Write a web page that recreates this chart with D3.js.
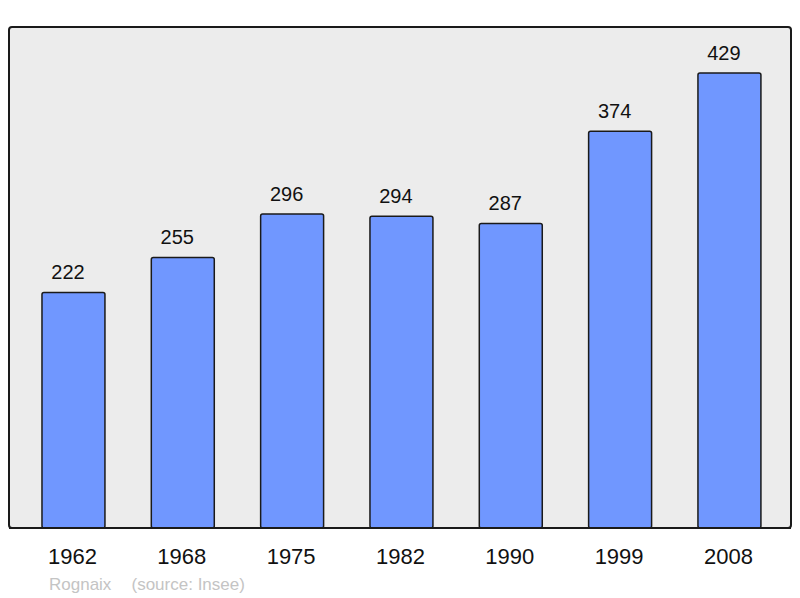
<!DOCTYPE html>
<html><head><meta charset="utf-8">
<script src="https://cdn.jsdelivr.net/npm/d3@7"></script>
<style>body{margin:0;background:#fff}svg{display:block}</style>
</head><body>
<script>
const years = ["1962","1968","1975","1982","1990","1999","2008"];
const population = [222,255,296,294,287,374,429];
const sourceText = ["Rognaix", "(source: Insee)"];

const W = 800, H = 598;
const svg = d3.select("body").append("svg").attr("width", W).attr("height", H);
const font = "'Liberation Sans', Arial, sans-serif";

const panel = {x0: 9, y0: 27, x1: 791, y1: 528};
const x = d3.scaleBand().domain(years).range([18.8, 784.1]).paddingInner(0.424).paddingOuter(0.212);
const y = d3.scaleLinear().domain([0, 472.4]).range([panel.y1, panel.y0]);

svg.append("rect").attr("x", panel.x0).attr("y", panel.y0)
  .attr("width", panel.x1 - panel.x0).attr("height", panel.y1 - panel.y0)
  .attr("rx", 3).attr("fill", "#ececec").attr("stroke", "#1a1a1a").attr("stroke-width", 2);

const data = years.map((yr, i) => ({yr, v: population[i]}));

svg.selectAll("rect.bar").data(data).enter().append("rect").attr("class", "bar")
  .attr("x", d => x(d.yr)).attr("y", d => y(d.v))
  .attr("width", x.bandwidth()).attr("height", d => y(0) - y(d.v))
  .attr("rx", 2).attr("fill", "#7097ff").attr("stroke", "#1a1a1a").attr("stroke-width", 1.5);

svg.append("line").attr("x1", panel.x0).attr("x2", panel.x1).attr("y1", panel.y1).attr("y2", panel.y1)
  .attr("stroke", "#1a1a1a").attr("stroke-width", 2);

svg.selectAll("text.val").data(data).enter().append("text").attr("class", "val")
  .attr("x", d => x(d.yr) + x.bandwidth() / 2 - 5.5).attr("y", d => y(d.v) - 13.5)
  .attr("text-anchor", "middle").attr("font-family", font).attr("font-size", 20)
  .attr("fill", "#111").text(d => d.v);

const xAxis = d3.axisBottom(x).tickSize(0).tickPadding(0);
const ax = svg.append("g").attr("transform", `translate(0,${panel.y1})`).call(xAxis);
ax.select(".domain").remove();
ax.selectAll("text").attr("font-family", font).attr("font-size", 22).attr("fill", "#111")
  .attr("dy", null).attr("y", 36).attr("dx", -1);

svg.append("text").attr("x", 49).attr("y", 590).attr("font-family", font).attr("font-size", 17)
  .attr("fill", "#c4c4c4").text(sourceText[0]);
svg.append("text").attr("x", 131.5).attr("y", 590).attr("font-family", font).attr("font-size", 17)
  .attr("fill", "#c4c4c4").text(sourceText[1]);
</script>
</body></html>
